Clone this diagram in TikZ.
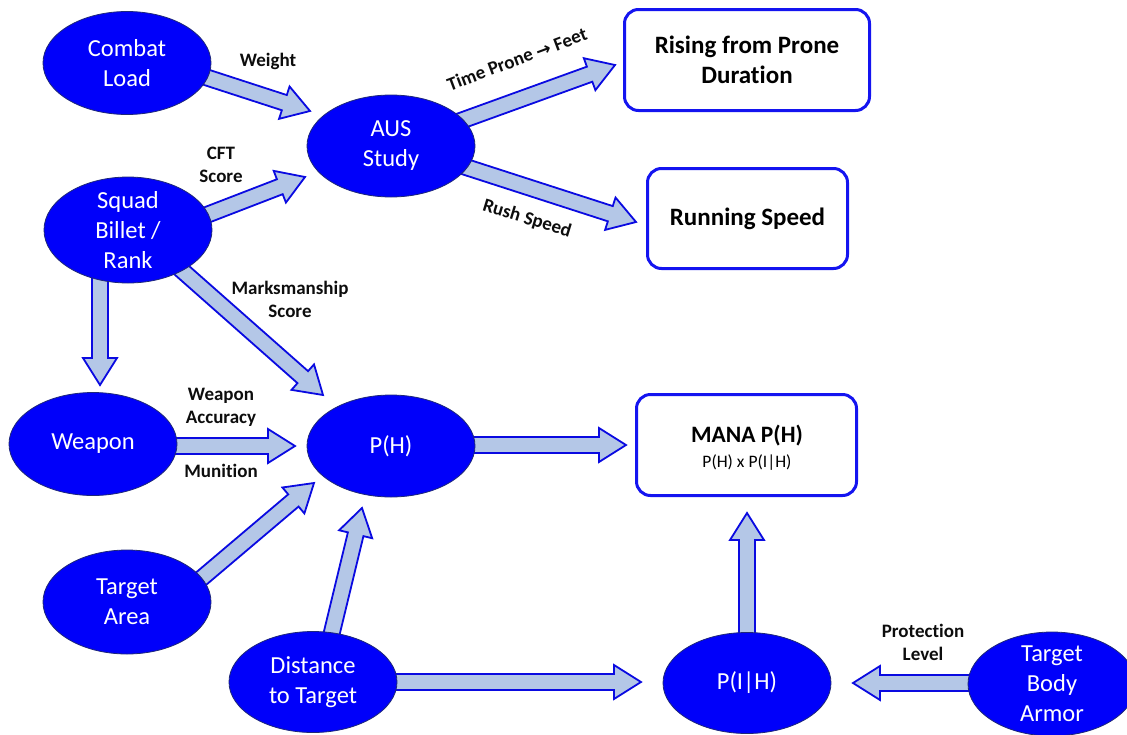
\documentclass[tikz,border=0pt]{standalone}
\usepackage{fontspec}
\setmainfont{Carlito}[Ligatures=NoCommon]
\newfontfamily\symfont{DejaVu Sans}
\usetikzlibrary{shapes.geometric,calc}
\pgfdeclarelayer{back}
\pgfsetlayers{back,main}

\definecolor{ellblue}{RGB}{0,0,250}
\definecolor{ellline}{RGB}{30,40,120}
\definecolor{arrfill}{RGB}{180,199,231}
\definecolor{arrline}{RGB}{10,10,225}
\definecolor{rectline}{RGB}{20,20,240}

\tikzset{
  ell/.style={ellipse, fill=ellblue, draw=ellline, line width=0.8pt,
    minimum width=168pt, minimum height=102pt, inner sep=0pt},
  elltext/.style={text=white, align=center, inner sep=0pt,
    font=\fontsize{24.5}{30}\selectfont},
  outbox/.style={rectangle, rounded corners=14pt, draw=rectline, line width=3pt,
    fill=white, align=center, font=\bfseries\fontsize{25}{30}\selectfont},
  lbl/.style={align=center, inner sep=0pt, text=black!95,
    font=\bfseries\fontsize{19}{23}\selectfont},
  blockarrow/.style={fill=arrfill, draw=arrline, line width=1.8pt, line join=miter}
}

% thick block arrow from #1 to the tip #2
\newcommand{\blockarr}[2]{%
  \coordinate (bas) at #1;
  \coordinate (bat) at #2;
  \coordinate (bah) at ($(bat)!27pt!(bas)$);
  \draw[blockarrow] ($(bas)!8pt!90:(bat)$) -- ($(bah)!8pt!90:(bat)$)
    -- ($(bah)!17pt!90:(bat)$) -- (bat) -- ($(bah)!17pt!-90:(bat)$)
    -- ($(bah)!8pt!-90:(bat)$) -- ($(bas)!8pt!-90:(bat)$) -- cycle;
}

\begin{document}
\begin{tikzpicture}[x=1pt, y=-1pt]
\useasboundingbox (0,0) rectangle (1127,734);

% input and intermediate ellipses
\node[ell, minimum height=103pt] (cl) at (127,63) {};
\node[elltext] (clt) at (cl) {Combat\\Load};
\node[ell] (aus) at (391,146) {};
\node[elltext] (aust) at (aus) {AUS\\Study};
\node[ell, minimum height=106pt] (sq) at (128,230) {};
\node[elltext] (sqt) at (sq) {Squad\\Billet /\\Rank};
\node[ell, minimum height=103pt] (wp) at (93,444) {};
\node[elltext] (wpt) at (wp) {Weapon};
\node[ell] (ph) at (391,446) {};
\node[elltext] (pht) at (ph) {P(H)};
\node[ell, minimum height=104pt] (ta) at (127,602) {};
\node[elltext] (tat) at (ta) {Target\\Area};
\node[ell, minimum height=101pt] (dt) at (313,682) {};
\node[elltext] (dtt) at (dt) {Distance\\to Target};
\node[ell, minimum height=101pt] (pih) at (747,683) {};
\node[elltext] (piht) at (pih) {P(I|H)};
\node[ell, minimum height=104pt] (ba) at (1052,684) {};
\node[elltext] (bat1) at (ba) {Target\\Body\\Armor};

% output boxes
\node[outbox, minimum width=245pt, minimum height=101pt] (rise) at (747,60)
  {Rising from Prone\\Duration};
\node[outbox, minimum width=200pt, minimum height=100pt] (run) at (747.5,218.5)
  {Running Speed};
\node[outbox, minimum width=220pt, minimum height=101pt] (mana) at (746.5,445) {};
\node[font=\bfseries\fontsize{23.5}{26}\selectfont, inner sep=0pt] (manat) at (747,436) {MANA P(H)};
\node[font=\fontsize{17.5}{20}\selectfont, inner sep=0pt] (manas) at (747,463) {P(H) x P(I|H)};

% arrow tips
\coordinate (tW) at (310,111);
\coordinate (tC) at (305,177);
\coordinate (tT) at (615,65);
\coordinate (tR) at (636,222);
\coordinate (tWp) at (100,385);
\coordinate (tM) at (323,395);
\coordinate (tA) at (295,446);
\coordinate (tP) at (626,445);
\coordinate (tTa) at (314,483);
\coordinate (tD) at (362,508);
\coordinate (tDi) at (641,682);
\coordinate (tU) at (747,513);
\coordinate (tB) at (853,683);

\begin{pgfonlayer}{back}
\blockarr{($(cl)+(63,9)$)}{(tW)}
\blockarr{($(sq)+(63,-9)$)}{(tC)}
\blockarr{($(aus)+(50,-18)$)}{(tT)}
\blockarr{($(aus)+(50,13)$)}{(tR)}
\blockarr{($(sq)+(-28,20)$)}{(tWp)}
\blockarr{($(sq)+(32,21)$)}{(tM)}
\blockarr{($(wp)+(47,2)$)}{(tA)}
\blockarr{($(ph)+(49,-1)$)}{(tP)}
\blockarr{($(ta)+(43,3)$)}{(tTa)}
\blockarr{($(dt)+(12,-21)$)}{(tD)}
\blockarr{($(dt)+(47,0)$)}{(tDi)}
\blockarr{($(pih)+(0,-23)$)}{(tU)}
\blockarr{($(ba)+(-52,-1)$)}{(tB)}
\end{pgfonlayer}

% arrow labels
\node[lbl] (lW) at (268,61) {Weight};
\node[lbl] (lC) at (221,165) {CFT\\Score};
\node[lbl, rotate=20.5] (lT) at (517,59) {Time Prone {\symfont\bfseries\fontsize{18}{20}\selectfont →} Feet};
\node[lbl, rotate=-17] (lR) at (527,219) {Rush Speed};
\node[lbl] (lM) at (290,299) {Marksmanship\\Score};
\node[lbl] (lA) at (221,407) {Weapon\\Accuracy};
\node[lbl] (lMu) at (221,471) {Munition};
\node[lbl] (lP) at (923,642) {Protection\\Level};
\end{tikzpicture}
\end{document}
